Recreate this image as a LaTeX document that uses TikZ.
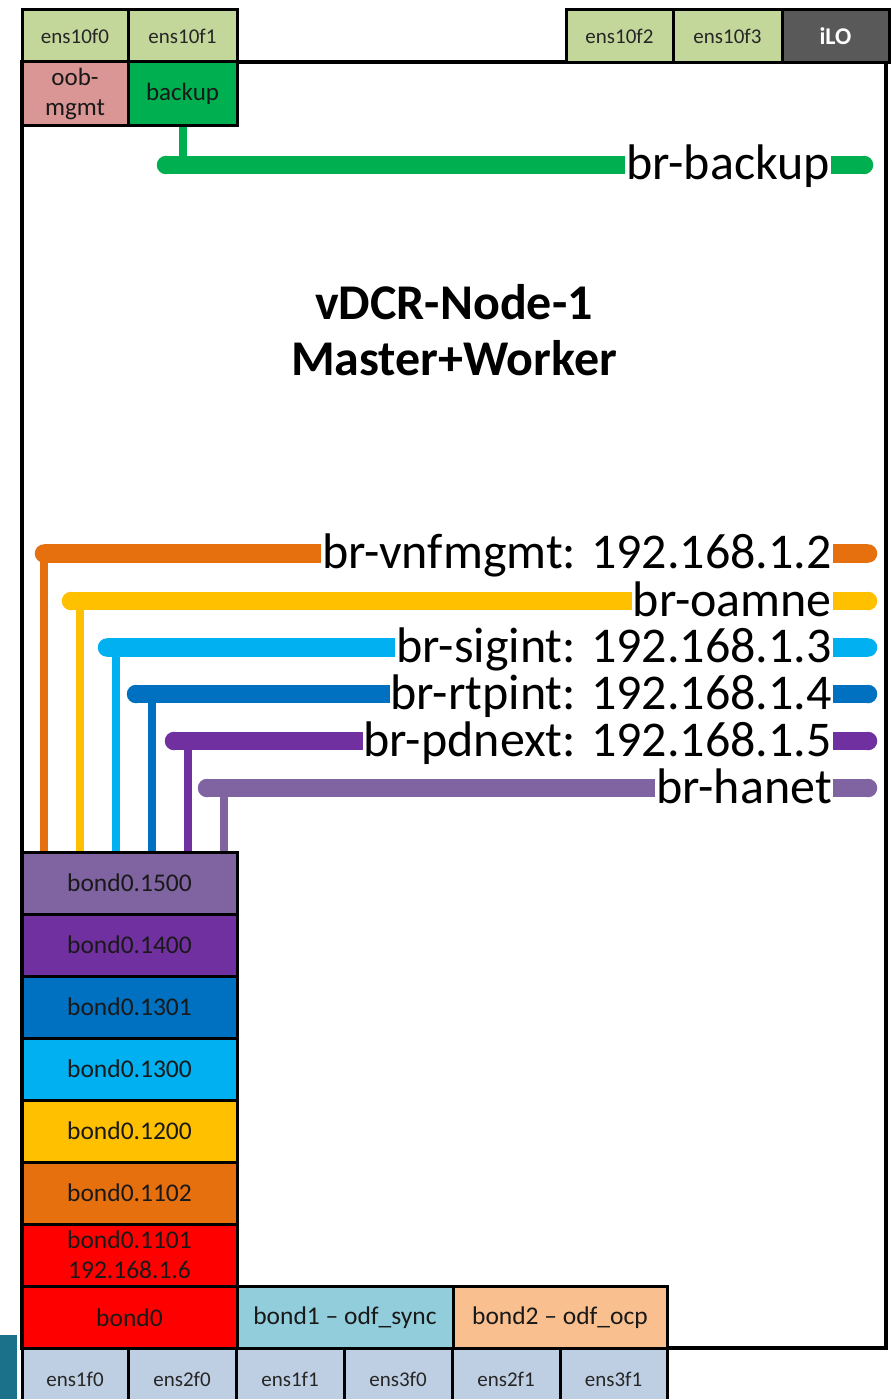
\documentclass[tikz,border=0pt]{standalone}
\usepackage{fontspec}
\setmainfont{Carlito}
\definecolor{ensg}{HTML}{C4D79B}
\definecolor{oob}{HTML}{DA9694}
\definecolor{bkp}{HTML}{00B050}
\definecolor{ilo}{HTML}{595959}
\definecolor{cHan}{HTML}{8064A2}
\definecolor{cPdn}{HTML}{7030A0}
\definecolor{cRtp}{HTML}{0070C0}
\definecolor{cSig}{HTML}{00B0F0}
\definecolor{cOam}{HTML}{FFC000}
\definecolor{cVnf}{HTML}{E7700E}
\definecolor{cRed}{HTML}{FF0000}
\definecolor{cB1}{HTML}{92CDDC}
\definecolor{cB2}{HTML}{FABF8F}
\definecolor{ensb}{HTML}{BFCFE3}
\definecolor{tealc}{HTML}{1B7189}
\tikzset{
  port/.style={draw=black, line width=3pt, minimum height=53pt, inner sep=0pt, font=\fontsize{21}{21}\selectfont, text=black!85},
  sub/.style={draw=black, line width=3pt, minimum height=64pt, inner sep=0pt, font=\fontsize{25}{30}\selectfont, align=center, text=black!90},
  bondbox/.style={draw=black, line width=3pt, minimum width=215pt, minimum height=62pt, inner sep=0pt, font=\fontsize{25.5}{30}\selectfont, align=center, text=black!90},
  nic/.style={draw=black, line width=3pt, fill=ensb, minimum height=62pt, inner sep=0pt, font=\fontsize{21}{21}\selectfont, text=black!85},
  brlabel/.style={inner sep=0pt, inner xsep=1pt, anchor=base east, font=\fontsize{50}{50}\selectfont},
  bar/.style={line width=18.5pt, line cap=butt},
  drop/.style={line width=7.5pt, line cap=butt},
}
\begin{document}
\begin{tikzpicture}[x=1pt,y=-1pt]
\useasboundingbox (0,0) rectangle (896,1399);
\clip (0,0) rectangle (896,1399);
\fill[tealc] (0,1335) rectangle (17,1399);
% main frame
\draw[line width=3.5pt] (22,62) rectangle (886,1348);
% top ports
\node[port, fill=ensg, minimum width=106pt] (e10f0) at (75,36) {ens10f0};
\node[port, fill=ensg, minimum width=109pt] (e10f1) at (182.5,36) {ens10f1};
\node[sub, fill=oob, minimum width=106pt] (oob) at (75,94) {oob-\\mgmt};
\node[sub, fill=bkp, minimum width=109pt] (backup) at (182.5,94) {backup};
\node[port, fill=ensg, minimum width=107pt] (e10f2) at (619.5,36) {ens10f2};
\node[port, fill=ensg, minimum width=109pt] (e10f3) at (727.5,36) {ens10f3};
\node[port, fill=ilo, minimum width=107pt, text=white, font=\fontsize{24}{24}\selectfont\bfseries] (ilo) at (835.5,36) {iLO};
% title
\node[font=\fontsize{50}{56}\selectfont\bfseries, align=center] (title) at (454,330) {vDCR-Node-1\\Master+Worker};
% bond stack
\node[bondbox, fill=cHan] (b1500) at (129.5,883) {bond0.1500};
\node[bondbox, fill=cPdn] (b1400) at (129.5,945) {bond0.1400};
\node[bondbox, fill=cRtp] (b1301) at (129.5,1007) {bond0.1301};
\node[bondbox, fill=cSig] (b1300) at (129.5,1069) {bond0.1300};
\node[bondbox, fill=cOam] (b1200) at (129.5,1131) {bond0.1200};
\node[bondbox, fill=cVnf] (b1102) at (129.5,1193) {bond0.1102};
\node[bondbox, fill=cRed] (b1101) at (129.5,1255) {bond0.1101\\192.168.1.6};
\node[bondbox, fill=cRed] (bond0) at (129.5,1317.5) {bond0};
\node[bondbox, fill=cB1, minimum width=216pt] (bond1) at (345,1317.5) {bond1 – odf\_sync};
\node[bondbox, fill=cB2, minimum width=214pt] (bond2) at (560,1317.5) {bond2 – odf\_ocp};
% NICs
\node[nic, minimum width=106pt] (n1) at (75,1379) {ens1f0};
\node[nic, minimum width=108pt] (n2) at (182,1379) {ens2f0};
\node[nic, minimum width=108pt] (n3) at (290,1379) {ens1f1};
\node[nic, minimum width=108pt] (n4) at (398,1379) {ens3f0};
\node[nic, minimum width=108pt] (n5) at (506,1379) {ens2f1};
\node[nic, minimum width=107pt] (n6) at (613.5,1379) {ens3f1};
% bridge labels
\node[brlabel] (lBkp) at (831,180) {br-backup};
\node[brlabel] (lVnf) at (833,568) {br-vnfmgmt: 192.168.1.2};
\node[brlabel] (lOam) at (833,616) {br-oamne};
\node[brlabel] (lSig) at (833,662) {br-sigint: 192.168.1.3};
\node[brlabel] (lRtp) at (833,709) {br-rtpint: 192.168.1.4};
\node[brlabel] (lPdn) at (833,756) {br-pdnext: 192.168.1.5};
\node[brlabel] (lHan) at (833,803) {br-hanet};
% bridge coordinates
\coordinate (aBkp) at (166,165); \coordinate (zBkp) at (864,165);
\coordinate (aVnf) at (44,553.5); \coordinate (zVnf) at (868,553.5);
\coordinate (aOam) at (71,601); \coordinate (zOam) at (868,601);
\coordinate (aSig) at (107,647.5); \coordinate (zSig) at (868,647.5);
\coordinate (aRtp) at (136,694); \coordinate (zRtp) at (868,694);
\coordinate (aPdn) at (174,741); \coordinate (zPdn) at (868,741);
\coordinate (aHan) at (207,788); \coordinate (zHan) at (868,788);
% backup bridge
\draw[drop, bkp, line width=8pt] (backup.south) -- (backup.south |- aBkp);
\draw[bar, bkp] (aBkp) -- (aBkp -| lBkp.west);
\draw[bar, bkp] (aBkp -| lBkp.east) -- (zBkp);
\fill[bkp] (aBkp) circle (9.25);
\fill[bkp] (zBkp) circle (9.25);
% bond bridges
\foreach \n/\c/\xv in {Vnf/cVnf/44, Oam/cOam/80, Sig/cSig/116, Rtp/cRtp/152, Pdn/cPdn/188, Han/cHan/224}{
  \draw[drop, \c] (a\n -| \xv,0) -- (b1500.north -| \xv,0);
  \draw[bar, \c] (a\n) -- (a\n -| l\n.west);
  \draw[bar, \c] (a\n -| l\n.east) -- (z\n);
  \fill[\c] (a\n) circle (9.25);
  \fill[\c] (z\n) circle (9.25);
}
\end{tikzpicture}
\end{document}
